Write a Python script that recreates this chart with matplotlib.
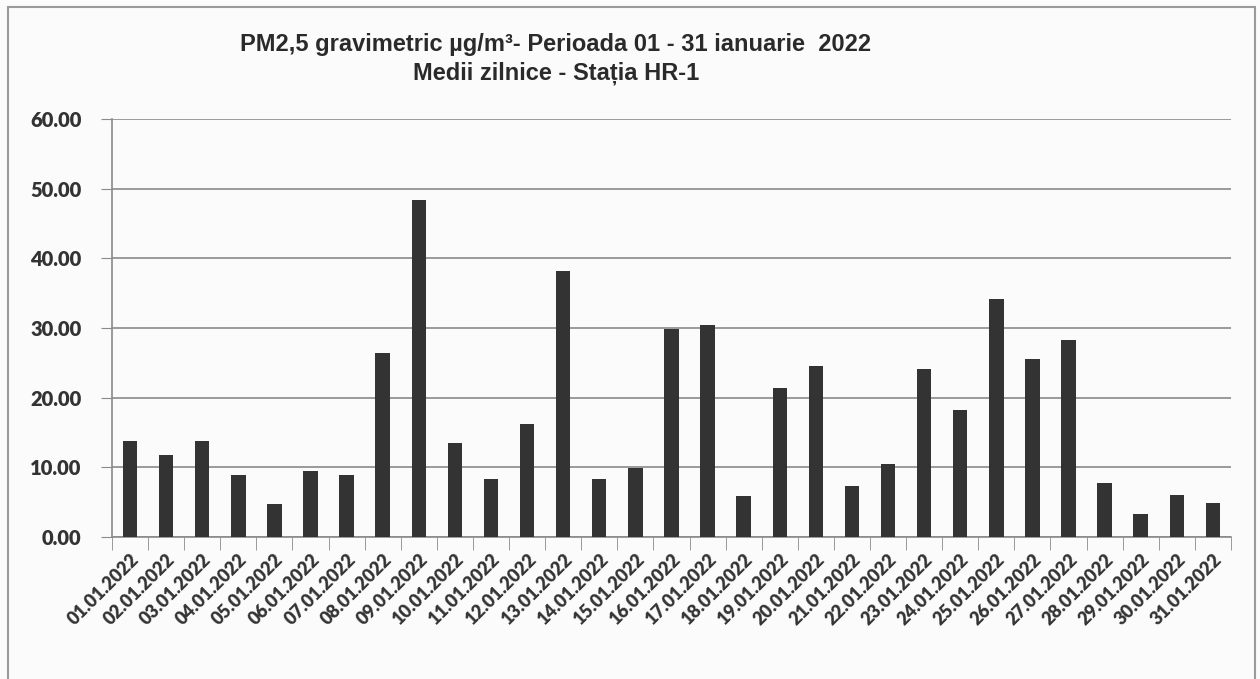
import matplotlib.pyplot as plt
from matplotlib.patches import Rectangle
import numpy as np

days = ['%02d.01.2022' % d for d in range(1, 32)]
pm25 = [13.8, 11.8, 13.8, 8.9, 4.8, 9.5, 8.9, 26.4, 48.3, 13.5,
        8.3, 16.2, 38.1, 8.3, 9.9, 29.8, 30.4, 5.9, 21.4, 24.5,
        7.3, 10.5, 24.1, 18.2, 34.1, 25.5, 28.3, 7.7, 3.3, 6.0, 4.9]
yticks = [0, 10, 20, 30, 40, 50, 60]

plt.rcParams['font.family'] = ['Lato', 'DejaVu Sans']

fig = plt.figure(figsize=(12.6, 6.79), dpi=100, facecolor='#fbfbfb')
ax = fig.add_axes([0.0889, 0.209, 0.888, 0.616])
ax.set_facecolor('#fbfbfb')

x = np.arange(len(days))
ax.bar(x, pm25, width=0.4, color='#333333', zorder=3)

ax.set_xlim(-0.5, len(days) - 0.5)
ax.set_ylim(0, 60)
ax.set_yticks(yticks)
ax.set_yticklabels(['%.2f' % v for v in yticks], fontsize=14.5, fontweight='heavy', color='#333333')
ax.yaxis.grid(True, color='#8a8a8a', linewidth=1.2, zorder=0)

ax.set_xticks(x)
ax.set_xticklabels(days, rotation=45, ha='right', rotation_mode='anchor',
                   fontsize=13, fontweight='heavy', color='#333333')
ax.tick_params(axis='x', length=0, pad=10)
ax.set_xticks(np.arange(len(days) + 1) - 0.5, minor=True)
ax.tick_params(axis='x', which='minor', length=9, color='#8a8a8a')
ax.tick_params(axis='y', length=8, color='#8a8a8a', pad=14)

for s in ['top', 'right']:
    ax.spines[s].set_visible(False)
for s in ['left', 'bottom']:
    ax.spines[s].set_color('#8a8a8a')
    ax.spines[s].set_linewidth(1.2)

title_font = ['Liberation Sans', 'DejaVu Sans']
fig.text(0.441, 0.935, 'PM2,5 gravimetric \u00b5g/m\u00b3- Perioada 01 - 31 ianuarie  2022',
         ha='center', va='center', fontsize=17, fontweight='bold', color='#2a2a2a',
         family=title_font)
fig.text(0.441, 0.892, 'Medii zilnice - Sta\u021bia HR-1',
         ha='center', va='center', fontsize=17, fontweight='bold', color='#2a2a2a',
         family=title_font)

fig.patches.append(Rectangle((0.006, -0.01), 0.99, 1.0, transform=fig.transFigure,
                             fill=False, edgecolor='#9a9a9a', linewidth=1.5))

fig.savefig('out.png', dpi=100, facecolor=fig.get_facecolor())
